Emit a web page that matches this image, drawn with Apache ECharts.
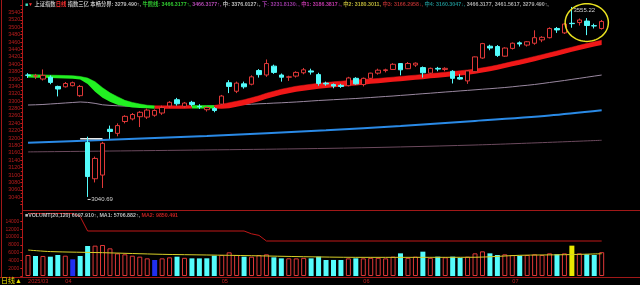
<!DOCTYPE html>
<html><head><meta charset="utf-8">
<script src="https://cdn.jsdelivr.net/npm/echarts@6/dist/echarts.min.js"></script>
<style>html,body{margin:0;padding:0;background:#000;}#c{width:640px;height:285px;}</style>
</head><body><div id="c"></div>
<script>
// ---------------- DATA ----------------
const dates = ['2025-03-25','2025-03-26','2025-03-27','2025-03-28','2025-03-31',
'2025-04-01','2025-04-02','2025-04-03','2025-04-07','2025-04-08','2025-04-09','2025-04-10','2025-04-11','2025-04-14','2025-04-15','2025-04-16','2025-04-17','2025-04-18','2025-04-21','2025-04-22','2025-04-23','2025-04-24','2025-04-25','2025-04-28','2025-04-29','2025-04-30',
'2025-05-06','2025-05-07','2025-05-08','2025-05-09','2025-05-12','2025-05-13','2025-05-14','2025-05-15','2025-05-16','2025-05-19','2025-05-20','2025-05-21','2025-05-22','2025-05-23','2025-05-26','2025-05-27','2025-05-28','2025-05-29','2025-05-30',
'2025-06-03','2025-06-04','2025-06-05','2025-06-06','2025-06-09','2025-06-10','2025-06-11','2025-06-12','2025-06-13','2025-06-16','2025-06-17','2025-06-18','2025-06-19','2025-06-20','2025-06-23','2025-06-24','2025-06-25','2025-06-26','2025-06-27','2025-06-30',
'2025-07-01','2025-07-02','2025-07-03','2025-07-04','2025-07-07','2025-07-08','2025-07-09','2025-07-10','2025-07-11','2025-07-14','2025-07-15','2025-07-16','2025-07-17'];

const opens  = [3371,3368,3360,3365,3340,3339,3342,3315,3188,3090,3100,3224,3213,3245,3252,3258,3257,3262,3268,3287,3304,3286,3297,3286,3277,3280,
3292,3350,3327,3347,3346,3383,3371,3395,3371,3365,3368,3377,3382,3372,3349,3345,3343,3342,3362,
3345,3362,3376,3383,3386,3402,3388,3398,3391,3376,3389,3386,3381,3364,3355,3380,3417,3449,3448,3422,
3443,3458,3452,3457,3466,3472,3497,3485,3511,3513,3517,3504.5,3497];
const closes = [3370,3369,3370,3351,3333,3348,3350,3340,3096,3145,3186,3218,3234,3259,3264,3270,3276,3275,3283,3297,3293,3295,3291,3285,3283,3275,
3314,3340,3349,3339,3366,3372,3402,3378,3365,3366,3378,3385,3379,3348,3346.8,3341,3340,3363,3347,
3362,3376,3384,3385,3400,3385,3402,3403,3377,3389,3387,3389,3362,3360,3382,3420,3456,3444,3424,3444,
3457,3455,3461,3472,3473,3497,3493,3509,3510,3520,3505,3503.8,3516];
const lows   = [3363,3360,3356,3346,3313,3337,3340,3312,3040.69,3080,3065,3198,3205,3240,3248,3230,3252,3258,3263,3282,3288,3282,3286,3279,3272,3270,
3290,3322,3322,3334,3343,3364,3366,3374,3353,3355,3364,3373,3372,3342,3342,3335,3336,3340,3345,
3340,3360,3372,3378,3385,3370,3387,3393,3364,3374,3381,3381,3348,3358,3347,3379,3415,3438,3420,3420,
3440,3448,3448,3453,3460,3470,3485,3482,3499,3505,3479,3497,3494];
const highs  = [3376,3374,3386,3370,3342,3352,3353,3344,3204,3150,3190,3234,3240,3262,3268,3273,3280,3278,3288,3300,3309,3298,3301,3292,3286,3284,
3317,3357,3353,3353,3370,3387,3413,3399,3375,3369,3381,3390,3388,3377,3353,3348,3347,3366,3365,
3364,3377,3388,3388,3403,3403,3406,3405,3394,3391,3393,3392,3384,3373,3384,3421,3458,3453,3452,3446,
3459,3462,3463,3492,3476,3500,3501,3512,3555.22,3524,3525,3510,3520];
const prevClose0 = 3360;

const volumes = [5380,5120,5130,4950,5370,5200,4270,5120,7680,7770,7940,7080,5800,5550,5200,4950,4520,4100,4520,4780,4950,4650,4520,4510,4530,5200,
5370,6060,5380,4950,4940,5370,5550,4780,4520,4530,4510,4650,4520,4950,4100,4110,4090,4520,4530,
4520,4650,4660,4520,4950,5800,4650,4950,6230,4650,4950,4780,4950,4650,4950,5800,6310,5800,5380,5550,
5370,5200,5380,5550,5370,5800,5550,5800,7770,5800,5550,5380,6098];
const lowVolumeDays = [6, 17];
const peakVolumeDays = [73];

// thick bull/bear ribbon (upper and lower edge)
const bandUpper = [3372.3,3371.7,3371.2,3370.6,3370.1,3369.6,3369.0,3367.0,3362.7,3352.8,
3336.6,3322.6,3312.4,3302.3,3296.7,3292.5,3289.1,3287.5,3287.5,3287.5,
3287.5,3287.5,3288.3,3288.3,3288.3,3288.3,3292.0,3295.9,3300.0,3304.0,
3309.4,3314.8,3321.6,3327.0,3332.4,3336.5,3340.6,3343.3,3346.0,3348.7,
3350.6,3352.5,3354.1,3356.0,3357.6,3359.5,3360.0,3361.7,3363.3,3365.2,
3367.1,3368.7,3370.6,3372.5,3374.7,3376.6,3378.5,3380.4,3382.5,3384.7,
3387.1,3390.4,3393.9,3398.0,3402.6,3407.2,3411.8,3416.4,3421.3,3426.1,
3431.0,3436.1,3441.3,3446.4,3451.3,3456.5,3460.8,3464.9];
const bandLower = [3364.3,3363.7,3363.2,3362.6,3362.1,3361.6,3361.0,3358.8,3346.7,3325.8,
3309.6,3298.6,3290.4,3286.3,3282.7,3281.5,3281.1,3279.5,3279.5,3279.5,
3279.5,3279.5,3280.3,3280.3,3280.3,3280.3,3279.4,3280.9,3285.0,3289.0,
3294.4,3299.8,3306.6,3312.0,3317.4,3321.5,3325.6,3328.3,3331.0,3333.7,
3335.6,3337.5,3339.1,3341.0,3342.6,3344.5,3347.2,3348.9,3350.5,3352.4,
3354.3,3355.9,3357.8,3359.7,3361.9,3363.8,3365.7,3367.6,3369.7,3371.9,
3374.3,3377.6,3381.1,3385.2,3389.8,3394.4,3399.0,3403.6,3408.5,3413.3,
3418.2,3423.3,3428.5,3433.6,3438.5,3443.7,3448.0,3452.1];
const bandFallSpans = [[0,17],[22,25]];
const bandRiseSpans = [[17,22],[25,77]];

const grayLine = [3289.7,3290.3,3291.1,3292.5,3293.8,3295.2,3296.5,3297.9,3296.8,3294.1,
3290.3,3288.7,3287.6,3286.8,3286.2,3285.7,3285.2,3284.9,3284.9,3284.9,
3285.2,3285.4,3285.7,3286.0,3286.5,3287.3,3288.4,3289.2,3290.3,3291.1,
3291.9,3293.0,3293.8,3294.9,3295.7,3296.8,3297.9,3299.2,3300.6,3301.9,
3303.0,3304.1,3305.2,3306.3,3307.3,3308.7,3310.0,3311.4,3312.8,3314.1,
3315.7,3317.1,3318.7,3320.3,3321.7,3323.3,3324.9,3326.3,3327.9,3329.3,
3330.9,3332.5,3333.9,3335.5,3337.1,3339.0,3341.2,3343.1,3345.3,3347.9,
3350.7,3353.4,3356.1,3359.1,3362.0,3365.0,3368.0,3370.9];
const blueLine = [[0,3187.6],[10,3194.7],[24,3205.8],[40,3221.2],[50,3232.9],[60,3246.4],[70,3261.3],[77,3275.4]];
const darkLine = [[0,3162.7],[40,3172.2],[60,3181.4],[77,3194.2]];
const gapLine  = [[7,3198],[10,3198]];

const volMA   = [[0,6650],[3,6250],[10,5970],[18,5550],[24,5380],[30,5200],[37,4940],[44,4780],[52,4780],[60,4800],[66,5300],[72,5450],[77,5700]];
const volStep = [[0,16000],[6,16000],[7,15200],[8,11520],[29,11520],[30,10800],[31,10400],[32,8960],[77,8960]];

const priceTicks = {min:3020, max:3560, step:20, showFrom:3040, showTo:3540};
const volTicks = {min:0, max:16000, step:2000, showFrom:2000, showTo:14000};
const circleMark = {idx:75, price:3513, cats:2.9, priceR:51};

// ---------------- STYLE ----------------
const FONT = '"Liberation Sans","Noto Sans CJK SC",sans-serif';
const RED = '#e03838', CYAN = '#54fcfc', AXRED = '#c41c1c';
const GREEN = '#22f022', BANDRED = '#f01818';
const HF = 5.3;

const chart = echarts.init(document.getElementById('c'), null, {renderer:'canvas'});

const kData = dates.map((d,i)=>[opens[i], closes[i], lows[i], highs[i]]);
const volData = volumes.map((v,i)=>{
  const prev = i === 0 ? prevClose0 : closes[i-1];
  let st;
  if (lowVolumeDays.includes(i)) st = {color:'#2030f0'};
  else if (peakVolumeDays.includes(i)) st = {color:'#e8e800'};
  else if (closes[i] >= prev) st = {color:'rgba(0,0,0,0)', borderColor:RED, borderWidth:1};
  else st = {color:CYAN};
  return {value:v, itemStyle:st};
});
function spanDiff(spans){
  const arr = dates.map(()=>'-');
  spans.forEach(([a,b])=>{ for(let i=a;i<=b;i++) arr[i] = +(bandUpper[i]-bandLower[i]).toFixed(2); });
  return arr;
}
const monthLabel = (val, idx) => {
  if (idx === 0) return val.slice(0,4) + '/' + val.slice(5,7);
  if (dates[idx-1] && dates[idx-1].slice(5,7) !== val.slice(5,7)) return val.slice(5,7);
  return '';
};
const rs = c => ({color:c, fontSize:HF, fontFamily:FONT});

const option = {
  backgroundColor:'#000',
  animation:false,
  title:[
    {left:25, top:1.5, padding:0,
     text:'{sq|■}{rd|▼} {w|上证指数}{r|日线} {w|指数三亿 本畅分界: 3279.490↑, }{g|牛熊线: 3466.3177↑, }{p|3466.3177↑, }{w|中: 3376.0127↓, }{p2|下: 3231.8130↓, }{m|中1: 3186.3817↓, }{y|中2: 3180.3011, }{dr|中3: 3166.2958↓, }{t|中4: 3160.3047↓, }{gr|3466.3177, 3461.5617, 3279.490↑,}',
     textStyle:{fontSize:HF, fontFamily:FONT, rich:{
       sq:{color:'#40e0c0', fontSize:5, fontFamily:FONT}, rd:{color:'#ff3030', fontSize:5, fontFamily:FONT},
       w:rs('#bcbcbc'), r:rs('#ff3030'), g:rs('#30c830'), p:rs('#b048b0'), p2:rs('#9838a0'),
       m:rs('#c038a8'), y:rs('#bcb438'), dr:rs('#a82c2c'), t:rs('#1c8888'), gr:rs('#a8a8a8')}}},
    {left:25, top:213, padding:0,
     text:'{w|■VOLUMT(20,120) 6097.910↑, MA1: 5706.882↑, }{r|MA2: 9850.491}',
     textStyle:{fontSize:HF, fontFamily:FONT, rich:{w:rs('#bcbcbc'), r:rs('#c02020')}}},
    {left:1, top:278, padding:0, text:'日线▲', textStyle:{color:'#e8e000', fontSize:7, fontWeight:'normal', fontFamily:FONT}}
  ],
  grid:[
    {left:24.3, right:34.6, top:5.2, height:199.4},
    {left:24.3, right:34.6, top:213.5, height:62.5}
  ],
  xAxis:[
    {type:'category', gridIndex:0, data:dates, boundaryGap:true, axisLine:{show:false}, axisTick:{show:false}, axisLabel:{show:false}, splitLine:{show:false}},
    {type:'category', gridIndex:1, data:dates, boundaryGap:true, axisLine:{show:false}, axisTick:{show:false}, splitLine:{show:false},
     axisLabel:{show:true, interval:0, hideOverlap:false, formatter:monthLabel, color:'#c02020', fontSize:5.6, fontFamily:FONT, margin:3, align:'left'}}
  ],
  yAxis:[
    {type:'value', gridIndex:0, min:priceTicks.min, max:priceTicks.max, interval:priceTicks.step, position:'left', offset:2,
     axisLine:{show:false}, splitLine:{show:false},
     axisTick:{show:true, length:2, lineStyle:{color:AXRED}},
     minorTick:{show:true, splitNumber:2, length:1.5, lineStyle:{color:AXRED}},
     axisLabel:{color:'#b81c1c', fontSize:5.4, fontFamily:FONT, margin:2,
       formatter:v=>(v<priceTicks.showFrom||v>priceTicks.showTo)?'':String(v)}},
    {type:'value', gridIndex:1, min:volTicks.min, max:volTicks.max, interval:volTicks.step, position:'left', offset:2,
     axisLine:{show:false}, splitLine:{show:false},
     axisTick:{show:true, length:2, lineStyle:{color:AXRED}},
     axisLabel:{color:'#b81c1c', fontSize:5, fontFamily:FONT, margin:3,
       formatter:v=>(v<volTicks.showFrom||v>volTicks.showTo)?'':String(v)}}
  ],
  series:[
    {type:'line', name:'dark', xAxisIndex:0, yAxisIndex:0, data:darkLine, smooth:0.3, symbol:'none', lineStyle:{color:'#6c4a5e', width:1}, z:2},
    {type:'line', name:'blue', xAxisIndex:0, yAxisIndex:0, data:blueLine, smooth:0.3, symbol:'none', lineStyle:{color:'#2a8ae6', width:2}, z:2},
    {type:'line', name:'gray', xAxisIndex:0, yAxisIndex:0, data:grayLine, symbol:'none', lineStyle:{color:'#9a88a0', width:1}, z:2},
    {type:'line', name:'bandBaseG', stack:'bg', xAxisIndex:0, yAxisIndex:0, data:bandLower, symbol:'none', lineStyle:{opacity:0}, z:3, silent:true},
    {type:'line', name:'bandG', stack:'bg', xAxisIndex:0, yAxisIndex:0, data:spanDiff(bandFallSpans), symbol:'none', lineStyle:{color:GREEN, width:0.5}, areaStyle:{color:GREEN, opacity:1}, z:3, silent:true},
    {type:'line', name:'bandBaseR', stack:'br', xAxisIndex:0, yAxisIndex:0, data:bandLower, symbol:'none', lineStyle:{opacity:0}, z:3, silent:true},
    {type:'line', name:'bandR', stack:'br', xAxisIndex:0, yAxisIndex:0, data:spanDiff(bandRiseSpans), symbol:'none', lineStyle:{color:BANDRED, width:0.5}, areaStyle:{color:BANDRED, opacity:1}, z:3, silent:true},
    {type:'line', name:'gap', xAxisIndex:0, yAxisIndex:0, data:gapLine, symbol:'none', lineStyle:{color:'#e8e8e8', width:1.5}, z:4},
    {type:'candlestick', xAxisIndex:0, yAxisIndex:0, data:kData, barWidth:5, z:5,
     itemStyle:{color:'#000', color0:CYAN, borderColor:RED, borderColor0:CYAN, borderWidth:1}},
    {type:'bar', xAxisIndex:1, yAxisIndex:1, data:volData, barWidth:5, z:3},
    {type:'line', xAxisIndex:1, yAxisIndex:1, data:volMA, smooth:0.3, symbol:'none', lineStyle:{color:'#d8d028', width:1}, z:4},
    {type:'line', xAxisIndex:1, yAxisIndex:1, data:volStep, symbol:'none', lineStyle:{color:'#c01818', width:1}, z:4}
  ]
};
chart.setOption(option);

// annotations placed through the chart's own scales
const px = (i, v) => chart.convertToPixel({gridIndex:0}, [dates[i], v]);
const hiIdx = highs.indexOf(Math.max(...highs));
const loIdx = lows.indexOf(Math.min(...lows));
const hp = px(hiIdx, highs[hiIdx]);
const lp = px(loIdx, lows[loIdx]);
const cc = px(circleMark.idx, circleMark.price);
const catW = px(1, 3300)[0] - px(0, 3300)[0];
const rx = circleMark.cats * catW;
const ry = px(circleMark.idx, circleMark.price - circleMark.priceR)[1] - cc[1];
const ell = [];
for (let k = 0; k < 72; k++) { const a = k / 72 * Math.PI * 2; ell.push([cc[0] + rx*Math.cos(a), cc[1] + ry*Math.sin(a)]); }

chart.setOption({graphic:[
  {type:'line', shape:{x1:1.5, y1:0, x2:1.5, y2:277}, style:{stroke:'#a01818', lineWidth:1}, silent:true},
  {type:'line', shape:{x1:22.5, y1:0, x2:22.5, y2:277}, style:{stroke:'#b01818', lineWidth:1}, silent:true},
  {type:'line', shape:{x1:22, y1:210.5, x2:640, y2:210.5}, style:{stroke:'#a01818', lineWidth:1}, silent:true},
  {type:'line', shape:{x1:0, y1:277.5, x2:640, y2:277.5}, style:{stroke:'#a01818', lineWidth:1}, silent:true},
  {type:'polygon', shape:{points:ell}, style:{fill:null, stroke:'#e8e020', lineWidth:1.5}, silent:true, z:20},
  {type:'text', x:hp[0]+1.5, y:hp[1]+3.5, style:{text:highs[hiIdx].toFixed(2), fill:'#d0d0d0', font:'6px '+FONT, textVerticalAlign:'middle', verticalAlign:'middle'}, z:20},
  {type:'line', shape:{x1:lp[0], y1:lp[1]+2.5, x2:lp[0]+3, y2:lp[1]+2.5}, style:{stroke:'#d0d0d0', lineWidth:1}, z:20},
  {type:'text', x:lp[0]+3.5, y:lp[1]+2.5, style:{text:lows[loIdx].toFixed(2), fill:'#d0d0d0', font:'6px '+FONT, textVerticalAlign:'middle', verticalAlign:'middle'}, z:20}
]});
</script></body></html>
